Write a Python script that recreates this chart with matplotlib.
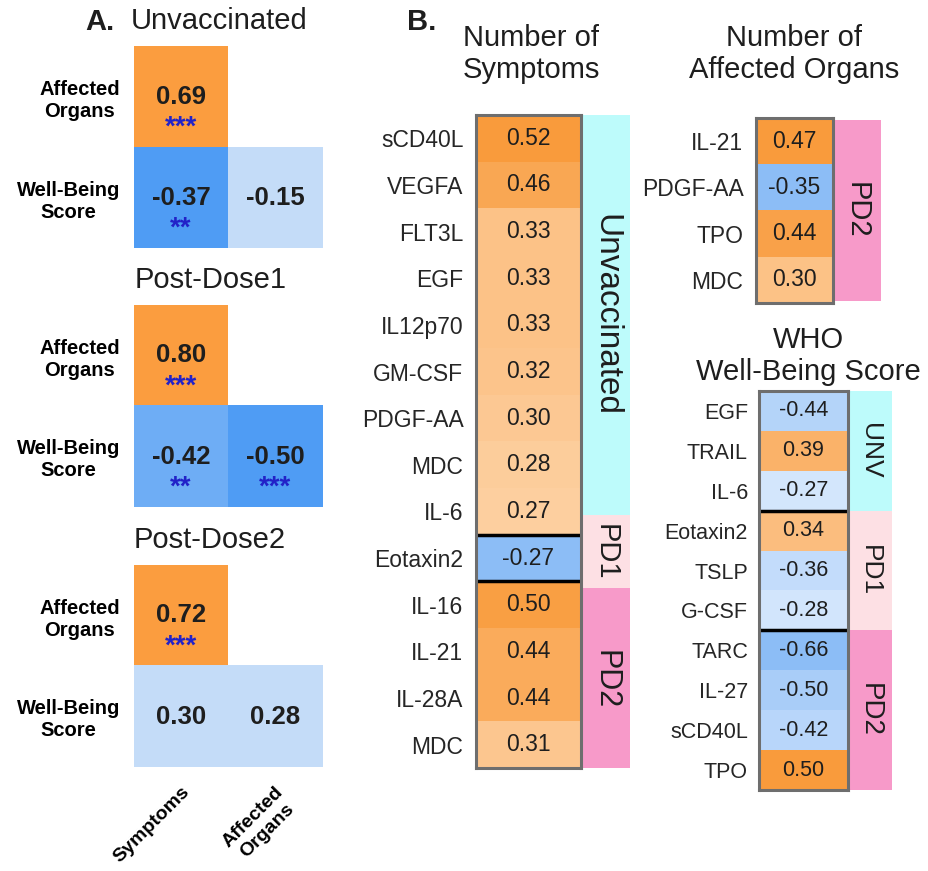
import numpy as np
import matplotlib.pyplot as plt
from matplotlib.colors import to_rgb

plt.rcParams['font.family'] = ['Liberation Sans', 'DejaVu Sans']
plt.rcParams['text.color'] = '#1e1e1e'

W, H = 929, 871

# ---- panel A: correlations between clinical outcomes ----
a_titles = ['Unvaccinated', 'Post-Dose1', 'Post-Dose2']
a_rows = ['Affected\nOrgans', 'Well-Being\nScore']
a_cols = ['Symptoms', 'Affected\nOrgans']
a_unvacc = [[0.69, np.nan], [-0.37, -0.15]]
a_pd1 = [[0.80, np.nan], [-0.42, -0.50]]
a_pd2 = [[0.72, np.nan], [0.30, 0.28]]
a_unvacc_stars = [['***', ''], ['**', '']]
a_pd1_stars = [['***', ''], ['**', '***']]
a_pd2_stars = [['***', ''], ['', '']]

# ---- panel B: cytokines vs outcomes ----
sym_labels = ['sCD40L', 'VEGFA', 'FLT3L', 'EGF', 'IL12p70', 'GM-CSF', 'PDGF-AA',
              'MDC', 'IL-6', 'Eotaxin2', 'IL-16', 'IL-21', 'IL-28A', 'MDC']
sym_values = [0.52, 0.46, 0.33, 0.33, 0.33, 0.32, 0.30, 0.28, 0.27, -0.27,
              0.50, 0.44, 0.44, 0.31]
sym_groups = ['Unvaccinated', 'PD1', 'PD2']
sym_group_sizes = [9, 1, 4]

org_labels = ['IL-21', 'PDGF-AA', 'TPO', 'MDC']
org_values = [0.47, -0.35, 0.44, 0.30]
org_groups = ['PD2']
org_group_sizes = [4]

who_labels = ['EGF', 'TRAIL', 'IL-6', 'Eotaxin2', 'TSLP', 'G-CSF', 'TARC',
              'IL-27', 'sCD40L', 'TPO']
who_values = [-0.44, 0.39, -0.27, 0.34, -0.36, -0.28, -0.66, -0.50, -0.42, 0.50]
who_groups = ['UNV', 'PD1', 'PD2']
who_group_sizes = [3, 3, 4]

group_colors = {'Unvaccinated': '#bdfbfb', 'UNV': '#bdfbfb',
                'PD1': '#fde0e4', 'PD2': '#f79ac9'}


def px(x0, y0, x1, y1):
    return [x0 / W, 1 - y1 / H, (x1 - x0) / W, (y1 - y0) / H]


def mix(c0, c1, t):
    c0, c1 = np.array(to_rgb(c0)), np.array(to_rgb(c1))
    return c0 + (c1 - c0) * t


def shade(v, vmax, pale, full):
    t = np.clip((abs(v) / vmax - 0.4) / 0.6, 0, 1)
    return mix(pale, full, t)


fig = plt.figure(figsize=(W / 100, H / 100), dpi=100)

# ---------------- panel A ----------------
fig.text(85 / W, 1 - 22 / H, 'A.', fontsize=21, fontweight='bold', va='center')
a_data = [a_unvacc, a_pd1, a_pd2]
a_stars = [a_unvacc_stars, a_pd1_stars, a_pd2_stars]
a_tops = [46, 305, 565]
a_title_y = [21, 280, 540]
a_title_x = [219, 211, 210]
for k in range(3):
    vals = np.array(a_data[k], dtype=float)
    stars = a_stars[k]
    neg_max = np.nanmax(np.abs(vals[vals < 0])) if (vals < 0).any() else 1
    rgba = np.ones((2, 2, 4))
    for i in range(2):
        for j in range(2):
            v = vals[i, j]
            if np.isnan(v):
                rgba[i, j, 3] = 0
            elif stars[i][j] == '':
                rgba[i, j, :3] = to_rgb('#c4dcf8')
            elif v > 0:
                rgba[i, j, :3] = to_rgb('#fb9d3f')
            else:
                rgba[i, j, :3] = shade(v, neg_max, '#c4dcf8', '#4f9cf4')
    ax = fig.add_axes(px(134, a_tops[k], 322, a_tops[k] + 202))
    ax.imshow(rgba, aspect='auto')
    for i in range(2):
        for j in range(2):
            if np.isnan(vals[i, j]):
                continue
            ax.text(j, i, f'{vals[i, j]:.2f}', ha='center', va='center',
                    fontsize=18.5, fontweight='bold')
            if stars[i][j]:
                ax.text(j, i + 0.31, stars[i][j], ha='center', va='center',
                        fontsize=20, fontweight='bold', color='#2222c8')
    for s in ax.spines.values():
        s.set_visible(False)
    ax.set_yticks([0, 1], a_rows, fontsize=14.5, fontweight='bold')
    for t in ax.get_yticklabels():
        t.set_multialignment('center')
    ax.tick_params(length=0, pad=10)
    if k == 2:
        ax.set_xticks([0, 1], a_cols, fontsize=14, fontweight='bold',
                      rotation=45, ha='right', rotation_mode='anchor')
        for t in ax.get_xticklabels():
            t.set_multialignment('center')
        ax.tick_params(axis='x', pad=12)
    else:
        ax.set_xticks([])
    fig.text(a_title_x[k] / W, 1 - a_title_y[k] / H, a_titles[k], fontsize=21,
             ha='center', va='center')


# ---------------- panel B ----------------
def column(box, band_x, labels, values, groups, sizes, band_edges,
           fs, band_fs, pad):
    n = len(values)
    vals = np.array(values)
    pos_max = vals[vals > 0].max()
    neg_max = np.abs(vals[vals < 0]).max()
    rgb = np.array([shade(v, pos_max, '#fedcb8', '#f99b3c') if v > 0
                    else shade(v, neg_max, '#d5e7fd', '#8cbdf6')
                    for v in vals]).reshape(n, 1, 3)
    ax = fig.add_axes(px(*box))
    ax.imshow(rgb, aspect='auto')
    for i, v in enumerate(values):
        ax.text(0, i, f'{v:.2f}', ha='center', va='center', fontsize=fs)
    ax.set_xticks([])
    ax.set_yticks(range(n), labels, fontsize=fs, color='#262626')
    ax.tick_params(length=0, pad=pad)
    for s in ax.spines.values():
        s.set_color('#6e6e6e')
        s.set_linewidth(2.2)
    for e in np.cumsum(sizes)[:-1] - 0.5:
        ax.axhline(e, color='black', lw=2.5)
    bax = fig.add_axes(px(band_x[0], box[1], band_x[1], box[3]))
    bax.set_xlim(0, 1)
    bax.set_ylim(n - 0.5, -0.5)
    bax.axis('off')
    for g, a, b, f in zip(groups, band_edges[:-1], band_edges[1:], band_fs):
        bax.axhspan(a, b, color=group_colors[g], lw=0)
        bax.text(0.5, (a + b) / 2, g, rotation=-90, ha='center', va='center',
                 fontsize=f)
    ax.set_zorder(2)


fig.text(407 / W, 1 - 22 / H, 'B.', fontsize=21, fontweight='bold', va='center')
fig.text(531 / W, 1 - 54 / H, 'Number of\nSymptoms', fontsize=21,
         ha='center', va='center', linespacing=1.2)
fig.text(794 / W, 1 - 54 / H, 'Number of\nAffected Organs', fontsize=21,
         ha='center', va='center', linespacing=1.2)
fig.text(808 / W, 1 - 356 / H, 'WHO\nWell-Being Score', fontsize=21,
         ha='center', va='center', linespacing=1.15)

column((476, 115, 581, 768), (581, 630), sym_labels, sym_values, sym_groups,
       sym_group_sizes, [-0.5, 8.08, 9.65, 13.55], 16.5, [24, 21, 22], 9)
column((756, 118, 833, 303), (833, 881), org_labels, org_values, org_groups,
       org_group_sizes, [-0.45, 3.45], 16.5, [21], 9)
column((759, 391, 848, 790), (848, 892), who_labels, who_values, who_groups,
       who_group_sizes, [-0.5, 2.5, 5.5, 9.5], 15.5, [19, 19, 20], 8)

fig.savefig('out.png', dpi=100)
